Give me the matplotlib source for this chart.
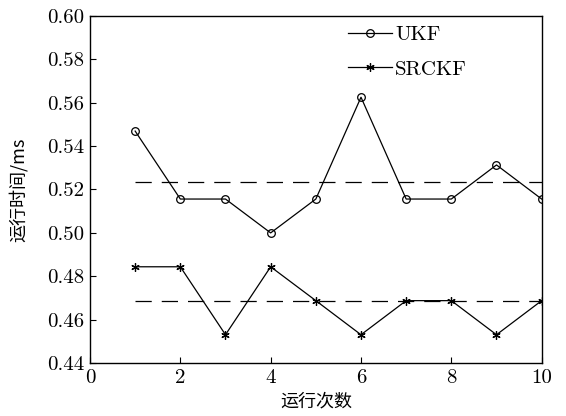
import numpy as np
import matplotlib
matplotlib.use('Agg')
import matplotlib.pyplot as plt

plt.rcParams['font.family'] = ['cmr10', 'Noto Sans CJK SC']
plt.rcParams['mathtext.fontset'] = 'cm'
plt.rcParams['axes.formatter.use_mathtext'] = True

# run index and measured running time (ms)
runs = np.arange(1, 11)
ukf = [0.5469, 0.5156, 0.5156, 0.5000, 0.5156, 0.5625, 0.5156, 0.5156, 0.5313, 0.5156]
srckf = [0.4844, 0.4844, 0.4531, 0.4844, 0.4688, 0.4531, 0.4688, 0.4688, 0.4531, 0.4688]
xticks = [0, 2, 4, 6, 8, 10]
yticks = [0.44, 0.46, 0.48, 0.50, 0.52, 0.54, 0.56, 0.58, 0.60]

fig = plt.figure(figsize=(5.66, 4.16), dpi=100)
ax = fig.add_axes([0.159, 0.127, 0.798, 0.835])

ax.plot(runs, ukf, '-o', color='black', lw=0.9, ms=5.5, mfc='none', mew=0.9, label='UKF')
ax.plot(runs, srckf, '-', marker=(6, 2, 0), color='black', lw=0.9, ms=6, mew=0.9, label='SRCKF')
# mean lines
ax.plot([runs[0], runs[-1]], [np.mean(ukf)] * 2, '--', color='black', lw=0.9, dashes=(13, 8))
ax.plot([runs[0], runs[-1]], [np.mean(srckf)] * 2, '--', color='black', lw=0.9, dashes=(13, 8))

ax.set_xlim(0, 10)
ax.set_ylim(0.44, 0.60)
ax.set_xticks(xticks)
ax.set_yticks(yticks)
ax.set_yticklabels([f'{v:.2f}' for v in yticks])
ax.set_xticklabels([str(v) for v in xticks])
ax.tick_params(direction='in', labelsize=15, length=4, width=0.8, pad=4)
for s in ax.spines.values():
    s.set_linewidth(1.0)

ax.set_xlabel('运行次数', fontsize=13, family=['Noto Sans CJK SC'], labelpad=4)
ax.set_ylabel('运行时间/ms', fontsize=13, family=['Noto Sans CJK SC', 'cmr10'], labelpad=14)

ax.legend(loc='upper left', bbox_to_anchor=(0.53, 1.025), frameon=False, fontsize=15,
          handlelength=2.1, handletextpad=0.15, labelspacing=0.75)

fig.savefig('out.png', dpi=100)
